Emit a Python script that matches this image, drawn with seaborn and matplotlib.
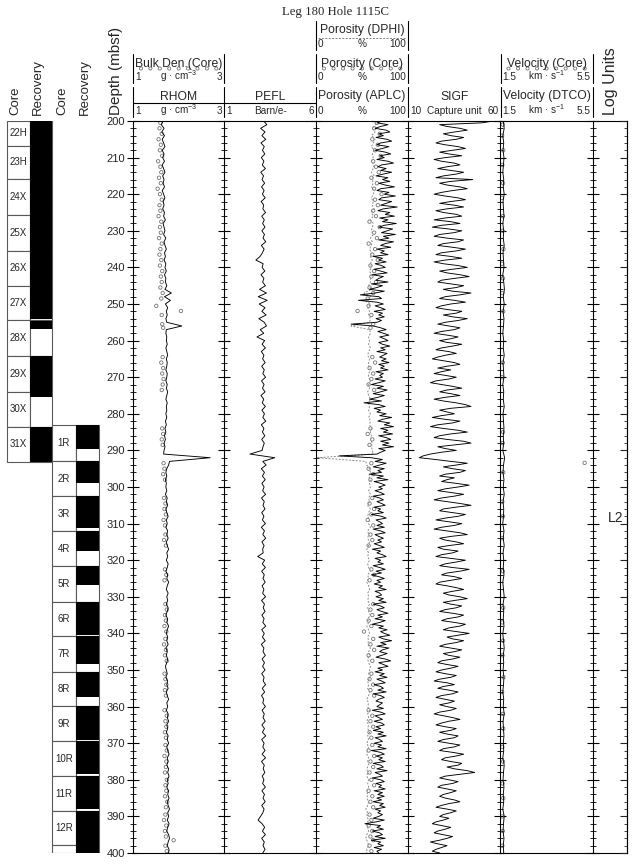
import numpy as np
import matplotlib
matplotlib.use("Agg")
import matplotlib.pyplot as plt
from matplotlib.patches import Rectangle
from matplotlib.ticker import MultipleLocator
import seaborn as sns

sns.set_style("white")
plt.rcParams["font.family"] = ["Liberation Sans", "DejaVu Sans"]
plt.rcParams["mathtext.fontset"] = "custom"
plt.rcParams["mathtext.rm"] = "Liberation Sans"
plt.rcParams["mathtext.it"] = "Liberation Sans:italic"
plt.rcParams["mathtext.bf"] = "Liberation Sans:bold"

# ---- log curves ----
# RHOM, PEFL, DPHI every 1 m from 200 to 400 mbsf
rhom = [
    1.66, 1.62, 1.68, 1.63, 1.69, 1.64, 1.67, 1.70, 1.64, 1.68,
    1.65, 1.69, 1.64, 1.67, 1.70, 1.65, 1.68, 1.66, 1.69, 1.64,
    1.67, 1.70, 1.66, 1.68, 1.65, 1.69, 1.67, 1.71, 1.66, 1.68,
    1.70, 1.67, 1.72, 1.68, 1.70, 1.73, 1.69, 1.71, 1.68, 1.72,
    1.70, 1.73, 1.69, 1.72, 1.71, 1.74, 1.70, 1.84, 1.69, 1.82,
    1.71, 1.76, 1.73, 1.75, 1.72, 1.74, 2.07, 1.73, 1.72, 1.74,
    1.73, 1.75, 1.72, 1.74, 1.76, 1.73, 1.75, 1.74, 1.72, 1.75,
    1.74, 1.72, 1.75, 1.73, 1.76, 1.74, 1.72, 1.75, 1.73, 1.74,
    1.72, 1.74, 1.71, 1.73, 1.70, 1.72, 1.69, 1.71, 1.68, 1.70,
    1.68, 1.67, 2.69, 1.80, 1.78, 1.74, 1.72, 1.74, 1.71, 1.73,
    1.72, 1.74, 1.71, 1.75, 1.73, 1.76, 1.72, 1.74, 1.77, 1.73,
    1.75, 1.72, 1.76, 1.74, 1.77, 1.73, 1.75, 1.78, 1.74, 1.76,
    1.73, 1.77, 1.75, 1.72, 1.76, 1.74, 1.78, 1.75, 1.73, 1.77,
    1.74, 1.76, 1.73, 1.77, 1.75, 1.72, 1.76, 1.74, 1.78, 1.75,
    1.73, 1.76, 1.74, 1.77, 1.72, 1.75, 1.73, 1.76, 1.74, 1.71,
    1.73, 1.75, 1.72, 1.76, 1.74, 1.77, 1.73, 1.75, 1.78, 1.74,
    1.76, 1.73, 1.77, 1.75, 1.78, 1.74, 1.76, 1.73, 1.77, 1.75,
    1.78, 1.74, 1.76, 1.79, 1.75, 1.77, 1.74, 1.78, 1.76, 1.79,
    1.75, 1.77, 1.74, 1.78, 1.76, 1.79, 1.75, 1.77, 1.80, 1.76,
    1.78, 1.75, 1.79, 1.76, 1.74, 1.78, 1.80, 1.77, 1.75, 1.79,
    1.78]

pefl = [
    3.15, 3.32, 2.98, 3.22, 3.05, 3.26, 3.00, 3.18, 3.08, 3.21,
    3.02, 3.16, 3.07, 3.24, 2.99, 3.14, 3.06, 3.20, 3.03, 3.17,
    3.08, 3.23, 3.01, 3.15, 3.10, 3.25, 3.04, 3.18, 3.09, 3.22,
    3.05, 3.19, 3.11, 3.26, 3.02, 3.17, 3.08, 2.95, 2.72, 3.12,
    3.06, 3.21, 3.00, 3.16, 3.09, 3.24, 2.92, 3.30, 2.85, 3.34,
    2.90, 3.22, 3.05, 3.28, 2.88, 3.18, 3.30, 2.96, 3.15, 2.78,
    3.20, 3.06, 3.24, 3.02, 3.16, 3.09, 3.23, 3.04, 3.18, 3.10,
    3.25, 3.03, 3.17, 3.08, 3.22, 3.00, 3.15, 3.07, 3.24, 3.05,
    3.19, 3.10, 3.26, 3.02, 3.16, 3.08, 3.21, 3.04, 3.18, 3.11,
    3.06, 2.40, 3.75, 3.10, 3.28, 3.02, 3.19, 3.08, 3.23, 3.05,
    3.17, 3.09, 3.25, 3.03, 3.18, 3.11, 3.22, 3.04, 3.16, 3.08,
    3.24, 3.02, 3.19, 3.10, 3.26, 3.05, 3.17, 3.09, 3.12, 2.82,
    3.20, 3.07, 3.24, 3.04, 3.18, 3.11, 3.23, 3.06, 3.16, 3.09,
    3.25, 3.03, 3.19, 3.12, 3.22, 3.05, 3.17, 3.10, 3.26, 3.04,
    3.18, 3.08, 3.23, 3.02, 3.16, 3.11, 3.24, 3.06, 3.19, 3.09,
    3.22, 3.04, 3.17, 3.12, 3.25, 3.07, 3.20, 3.03, 3.15, 3.10,
    3.24, 3.06, 3.18, 3.11, 3.23, 3.05, 3.19, 3.08, 3.26, 3.04,
    3.17, 3.10, 3.22, 3.06, 3.25, 3.03, 3.18, 3.12, 3.21, 3.07,
    3.16, 3.09, 3.24, 3.05, 3.19, 3.11, 3.23, 3.04, 3.17, 3.10,
    2.98, 2.84, 3.06, 3.20, 3.08, 3.24, 3.04, 3.18, 3.11, 3.22,
    3.10]

dphi = [
    62, 65, 61, 64, 60, 64, 62, 60, 63, 61,
    62, 60, 63, 62, 60, 63, 61, 62, 60, 63,
    62, 60, 62, 61, 63, 60, 62, 59, 62, 61,
    60, 62, 59, 61, 60, 58, 60, 59, 61, 59,
    60, 58, 60, 59, 59, 57, 60, 52, 60, 53,
    59, 56, 58, 57, 59, 58, 38, 58, 59, 57,
    58, 57, 59, 57, 56, 58, 57, 57, 59, 57,
    57, 59, 57, 58, 56, 57, 59, 57, 58, 57,
    59, 57, 59, 58, 60, 59, 60, 59, 61, 60,
    61, 62, 1, 54, 55, 58, 59, 57, 59, 58,
    59, 57, 59, 57, 58, 56, 59, 57, 56, 58,
    57, 59, 56, 57, 56, 58, 57, 55, 57, 56,
    58, 56, 57, 59, 56, 57, 55, 57, 58, 56,
    57, 56, 58, 56, 57, 59, 56, 57, 55, 57,
    58, 56, 57, 56, 59, 57, 58, 56, 57, 59,
    58, 57, 59, 56, 57, 56, 58, 57, 55, 57,
    56, 58, 56, 57, 55, 57, 56, 58, 56, 57,
    55, 57, 56, 55, 57, 56, 57, 55, 56, 55,
    57, 56, 57, 55, 56, 55, 57, 56, 54, 56,
    55, 57, 55, 56, 57, 55, 54, 56, 57, 55,
    55]

# APLC and SIGF every 0.5 m
aplc = [
    72, 66, 78, 70, 64, 76, 80, 68, 73, 65,
    77, 82, 70, 66, 79, 72, 64, 75, 81, 69,
    74, 66, 78, 84, 71, 67, 76, 70, 82, 73,
    65, 78, 72, 80, 68, 75, 85, 70, 66, 79,
    74, 86, 71, 68, 82, 76, 70, 88, 73, 67,
    80, 75, 85, 69, 78, 72, 87, 74, 68, 83,
    77, 71, 86, 73, 79, 68, 84, 75, 70, 81,
    66, 74, 70, 78, 62, 72, 68, 76, 64, 71,
    75, 63, 70, 77, 61, 73, 68, 65, 78, 60,
    72, 66, 58, 74, 64, 48, 68, 71, 46, 66,
    73, 64, 70, 75, 63, 72, 68, 74, 65, 71,
    66, 38, 62, 70, 76, 67, 73, 79, 69, 74,
    78, 68, 72, 80, 70, 75, 66, 77, 73, 69,
    76, 71, 79, 68, 74, 70, 78, 65, 73, 69,
    72, 64, 75, 68, 60, 73, 66, 77, 70, 62,
    74, 67, 58, 71, 52, 68, 75, 63, 70, 66,
    76, 69, 82, 72, 67, 80, 74, 84, 70, 78,
    73, 83, 68, 76, 81, 70, 79, 72, 84, 68,
    75, 70, 66, 25, 60, 72, 64, 76, 69, 62,
    74, 67, 71, 58, 73, 66, 78, 63, 70, 75,
    68, 72, 64, 70, 74, 62, 69, 73, 66, 71,
    75, 63, 70, 67, 73, 60, 71, 76, 65, 69,
    72, 66, 74, 62, 70, 75, 64, 68, 73, 67,
    71, 63, 69, 74, 61, 70, 66, 72, 76, 64,
    70, 67, 73, 62, 69, 75, 65, 71, 60, 68,
    74, 66, 70, 63, 72, 68, 76, 64, 69, 71,
    65, 73, 68, 76, 62, 70, 74, 66, 71, 78,
    67, 72, 64, 75, 69, 61, 73, 68, 77, 70,
    74, 80, 68, 73, 82, 70, 76, 66, 79, 72,
    69, 77, 71, 65, 75, 81, 68, 73, 78, 67,
    72, 64, 74, 69, 77, 66, 71, 75, 63, 70,
    73, 67, 76, 62, 70, 74, 68, 65, 72, 69,
    66, 73, 61, 70, 75, 64, 68, 72, 63, 71,
    74, 65, 70, 62, 73, 67, 76, 64, 69, 72,
    63, 71, 67, 76, 60, 70, 74, 65, 72, 68,
    75, 62, 70, 73, 66, 77, 64, 69, 72, 61,
    70, 74, 65, 71, 68, 75, 63, 72, 67, 74,
    66, 71, 62, 73, 69, 75, 64, 70, 67, 72,
    68, 62, 74, 65, 53, 70, 66, 73, 61, 69,
    72, 64, 75, 60, 70, 67, 73, 63, 71, 66,
    68]

sigf = [
    56, 50, 27, 31, 38, 42, 35, 29, 33, 40,
    36, 28, 25, 30, 37, 41, 34, 27, 32, 39,
    30, 24, 28, 35, 38, 31, 26, 33, 40, 36,
    29, 25, 45, 33, 27, 31, 38, 42, 34, 28,
    24, 30, 37, 41, 33, 27, 35, 40, 31, 25,
    29, 36, 39, 30, 24, 33, 38, 28, 23, 32,
    39, 35, 27, 24, 31, 40, 37, 29, 26, 34,
    41, 36, 28, 25, 33, 39, 30, 24, 29, 37,
    42, 34, 27, 31, 38, 43, 35, 28, 26, 33,
    40, 36, 29, 34, 44, 38, 30, 27, 35, 41,
    33, 28, 25, 31, 39, 36, 29, 34, 42, 37,
    30, 26, 32, 38, 35, 28, 24, 31, 37, 33,
    27, 31, 39, 34, 28, 25, 32, 36, 30, 26,
    23, 29, 35, 38, 31, 26, 33, 28, 24, 30,
    36, 32, 25, 22, 28, 34, 39, 31, 27, 33,
    38, 30, 24, 29, 36, 41, 44, 33, 27, 31,
    35, 28, 23, 30, 38, 34, 26, 22, 29, 37,
    42, 33, 27, 24, 31, 40, 44, 35, 26, 30,
    36, 28, 22, 18, 16, 25, 33, 42, 36, 29,
    34, 41, 38, 30, 27, 35, 31, 28, 36, 43,
    37, 30, 26, 33, 40, 35, 28, 24, 31, 38,
    44, 36, 29, 27, 34, 41, 37, 30, 25, 32,
    39, 35, 28, 24, 31, 38, 42, 33, 27, 30,
    36, 40, 32, 26, 29, 37, 34, 28, 25, 33,
    41, 36, 30, 27, 34, 43, 38, 31, 28, 35,
    39, 33, 27, 25, 31, 36, 40, 34, 29, 32,
    38, 42, 35, 29, 33, 39, 36, 30, 27, 34,
    40, 37, 31, 28, 35, 41, 38, 32, 29, 36,
    43, 37, 31, 34, 40, 36, 30, 27, 33, 39,
    35, 29, 32, 38, 34, 28, 26, 31, 37, 33,
    28, 25, 30, 36, 33, 27, 24, 31, 35, 29,
    26, 32, 37, 34, 28, 25, 30, 35, 32, 27,
    31, 36, 33, 27, 24, 29, 34, 38, 32, 28,
    25, 30, 36, 33, 27, 31, 37, 35, 29, 26,
    32, 38, 35, 29, 27, 34, 40, 36, 30, 28,
    33, 39, 37, 31, 35, 42, 46, 38, 30, 27,
    32, 37, 34, 28, 26, 31, 36, 33, 29, 27,
    30, 35, 38, 32, 28, 25, 31, 36, 33, 29,
    27, 32, 29, 25, 23, 28, 33, 30, 26, 24,
    29, 34, 31, 27, 22, 26, 31, 28, 25, 23,
    27]

# DTCO velocity every 2 m
dtco = [
    1.62, 1.66, 1.60, 1.64, 1.61, 1.65, 1.63, 1.60, 1.64, 1.62,
    1.66, 1.61, 1.63, 1.65, 1.60, 1.64, 1.62, 1.66, 1.61, 1.63,
    1.65, 1.60, 1.64, 1.67, 1.62, 1.66, 1.61, 1.65, 1.63, 1.60,
    1.64, 1.62, 1.66, 1.61, 1.63, 1.65, 1.60, 1.64, 1.62, 1.66,
    1.61, 1.63, 1.65, 1.62, 1.64, 1.60, 1.68, 1.63, 1.61, 1.65,
    1.62, 1.66, 1.61, 1.64, 1.63, 1.60, 1.65, 1.62, 1.66, 1.61,
    1.64, 1.62, 1.65, 1.60, 1.63, 1.66, 1.61, 1.64, 1.62, 1.65,
    1.60, 1.63, 1.66, 1.62, 1.64, 1.61, 1.65, 1.63, 1.60, 1.64,
    1.62, 1.66, 1.61, 1.63, 1.65, 1.62, 1.64, 1.60, 1.66, 1.63,
    1.61, 1.65, 1.62, 1.64, 1.60, 1.66, 1.63, 1.61, 1.65, 1.62,
    1.64]

depth_1m = np.arange(200, 401, 1.0)
depth_05 = np.arange(200, 400.5, 0.5)
depth_2m = np.arange(200, 401, 2.0)

# ---- core measurements ----
core_depth = [
    200.5, 202.0, 203.5, 205.0, 206.5, 208.0, 209.5, 211.0, 212.5, 214.0,
    215.5, 217.0, 218.5, 220.0, 221.5, 223.0, 224.5, 226.0, 227.5, 229.0,
    230.5, 232.0, 233.5, 235.0, 236.5, 238.0, 239.5, 241.0, 242.5, 244.0,
    245.5, 247.0, 248.5, 250.5, 251.9, 253.0, 255.5, 256.5, 264.5, 266.0,
    267.5, 269.0, 270.5, 272.0, 273.5, 284.0, 285.5, 287.0, 288.5, 293.5,
    295.0, 296.5, 298.0, 303.0, 304.5, 306.0, 307.5, 309.0, 310.5, 313.0,
    314.5, 316.0, 322.5, 324.0, 325.5, 332.0, 333.5, 335.0, 336.5, 338.0,
    339.5, 341.5, 343.0, 344.5, 346.0, 347.5, 351.0, 352.5, 354.0, 355.5,
    357.0, 361.0, 362.5, 364.0, 365.5, 367.0, 368.5, 370.5, 372.0, 373.5,
    375.0, 376.5, 378.0, 380.0, 381.5, 383.0, 384.5, 386.0, 387.5, 389.5,
    391.0, 392.5, 394.0, 395.5, 396.5, 398.0, 399.5]
core_den = [
    1.60, 1.58, 1.63, 1.56, 1.61, 1.59, 1.64, 1.55, 1.60, 1.62,
    1.57, 1.61, 1.54, 1.59, 1.63, 1.58, 1.60, 1.56, 1.62, 1.59,
    1.61, 1.57, 1.63, 1.60, 1.58, 1.62, 1.59, 1.64, 1.61, 1.63,
    1.60, 1.65, 1.62, 1.51, 2.05, 1.63, 1.64, 1.66, 1.65, 1.62,
    1.66, 1.64, 1.67, 1.65, 1.63, 1.64, 1.66, 1.63, 1.65, 1.67,
    1.69, 1.66, 1.70, 1.68, 1.71, 1.69, 1.72, 1.67, 1.70, 1.71,
    1.68, 1.72, 1.70, 1.73, 1.69, 1.71, 1.74, 1.70, 1.72, 1.69,
    1.73, 1.71, 1.68, 1.72, 1.70, 1.74, 1.69, 1.71, 1.73, 1.70,
    1.72, 1.69, 1.74, 1.71, 1.73, 1.70, 1.72, 1.71, 1.74, 1.69,
    1.73, 1.72, 1.70, 1.74, 1.71, 1.73, 1.70, 1.75, 1.72, 1.71,
    1.68, 1.73, 1.70, 1.72, 1.89, 1.71, 1.74]
core_por = [
    66, 63, 69, 61, 67, 64, 70, 62, 65, 68,
    60, 66, 63, 71, 64, 67, 62, 65, 58, 69,
    63, 66, 57, 64, 61, 67, 59, 63, 60, 65,
    58, 62, 56, 57, 45, 60, 62, 59, 61, 64,
    58, 62, 60, 57, 63, 59, 56, 61, 58, 60,
    57, 62, 59, 61, 58, 63, 60, 56, 62, 59,
    61, 57, 60, 63, 58, 62, 59, 61, 57, 60,
    52, 62, 59, 63, 57, 61, 60, 58, 62, 59,
    63, 57, 61, 59, 62, 58, 60, 61, 57, 63,
    59, 62, 58, 60, 63, 57, 61, 59, 62, 58,
    60, 57, 61, 59, 62, 58, 60]
vel_depth = [201, 204, 208, 212, 217, 221, 226, 230, 235, 239, 243, 247, 252,
             266, 270, 285, 288, 293.4, 296, 304, 308, 314, 323, 333, 337, 342,
             346, 352, 356, 362, 366, 371, 375, 381, 385, 390, 394, 398]
vel_core = [1.60, 1.57, 1.62, 1.58, 1.61, 1.56, 1.60, 1.59, 1.63, 1.57, 1.61, 1.58, 1.62,
            1.60, 1.57, 1.61, 1.59, 5.15, 1.62, 1.58, 1.61, 1.57, 1.60, 1.62, 1.58, 1.61,
            1.59, 1.63, 1.57, 1.60, 1.62, 1.58, 1.61, 1.59, 1.62, 1.57, 1.60, 1.58]

# ---- cores and recovery ----
cores1 = ["22H", "23H", "24X", "25X", "26X", "27X", "28X", "29X", "30X", "31X"]
cores1_top = [200.0, 206.7, 215.8, 225.8, 235.5, 245.0, 254.5, 264.3, 274.0, 283.6]
cores1_bot = [206.7, 215.8, 225.8, 235.5, 245.0, 254.5, 264.3, 274.0, 283.6, 293.1]
rec1_top = [200.0, 206.7, 215.8, 225.8, 235.5, 245.0, 254.6, 264.3, 283.6]
rec1_bot = [206.7, 215.8, 225.8, 235.5, 245.0, 254.2, 256.7, 275.5, 293.1]

cores2 = ["1R", "2R", "3R", "4R", "5R", "6R", "7R", "8R", "9R", "10R", "11R", "12R", ""]
cores2_top = [283.1, 293.0, 302.4, 312.1, 321.6, 331.3, 340.8, 350.5, 359.9, 369.5, 379.0, 388.5, 397.8]
cores2_bot = [293.0, 302.4, 312.1, 321.6, 331.3, 340.8, 350.5, 359.9, 369.5, 379.0, 388.5, 397.8, 400.0]
rec2_top = [283.1, 293.0, 302.4, 312.1, 321.6, 331.3, 340.8, 350.5, 359.9, 369.5, 379.0, 388.5]
rec2_bot = [289.5, 299.0, 311.2, 317.4, 326.9, 340.5, 348.3, 357.5, 369.1, 378.5, 388.0, 400.0]

# ---- layout (pixels) ----
W, H = 635, 864
TOP, BOT = 121, 853
edges = [133, 224.3, 316, 408.3, 500.5, 592.7, 627]
centros = [(edges[i] + edges[i + 1]) / 2 for i in range(6)]

fig = plt.figure(figsize=(6.35, 8.64), dpi=100)


def caja(x0, x1):
    return [x0 / W, 1 - BOT / H, (x1 - x0) / W, (BOT - TOP) / H]


axes = []
for i in range(6):
    ax = fig.add_axes(caja(edges[i], edges[i + 1]))
    axes.append(ax)

# curves
sns.lineplot(x=rhom, y=depth_1m, orient="y", sort=False, estimator=None,
             color="black", lw=0.65, ax=axes[0])
sns.scatterplot(x=core_den, y=core_depth, marker="o", s=6, facecolor="none",
                edgecolor="0.45", linewidth=0.6, ax=axes[0], legend=False)

sns.lineplot(x=pefl, y=depth_1m, orient="y", sort=False, estimator=None,
             color="black", lw=0.65, ax=axes[1])

sns.lineplot(x=dphi, y=depth_1m, orient="y", sort=False, estimator=None,
             color="0.55", lw=0.7, linestyle=(0, (2, 1.5)), ax=axes[2])
sns.lineplot(x=aplc, y=depth_05, orient="y", sort=False, estimator=None,
             color="black", lw=0.65, ax=axes[2])
sns.scatterplot(x=core_por, y=core_depth, marker="o", s=6, facecolor="none",
                edgecolor="0.45", linewidth=0.6, ax=axes[2], legend=False)

sns.lineplot(x=sigf, y=depth_05, orient="y", sort=False, estimator=None,
             color="black", lw=0.65, ax=axes[3])

sns.lineplot(x=dtco, y=depth_2m, orient="y", sort=False, estimator=None,
             color="black", lw=0.65, ax=axes[4])
sns.scatterplot(x=vel_core, y=vel_depth, marker="o", s=6, facecolor="none",
                edgecolor="0.45", linewidth=0.6, ax=axes[4], legend=False)

rangos = [(1, 3), (1, 6), (0, 100), (10, 60), (1.5, 5.5), (0, 1)]
for i, ax in enumerate(axes):
    ax.set_xlim(*rangos[i])
    ax.set_ylim(400, 200)
    ax.set_xlabel("")
    ax.set_ylabel("")
    ax.set_xticks([])
    ax.yaxis.set_major_locator(MultipleLocator(10))
    ax.yaxis.set_minor_locator(MultipleLocator(2))
    ax.tick_params(axis="y", which="major", direction="inout", length=9, width=0.8,
                   color="black", left=True, right=False, labelleft=(i == 0),
                   labelsize=8, pad=1)
    ax.tick_params(axis="y", which="minor", direction="inout", length=5, width=0.6,
                   color="black", left=True, right=False)
    for s in ["top", "bottom", "left", "right"]:
        ax.spines[s].set_color("black")
        ax.spines[s].set_linewidth(0.8)
    ax.spines["right"].set_visible(i == 5)

# ticks pointing inward on the right edge
tw = axes[5].twinx()
tw.set_ylim(400, 200)
tw.yaxis.set_major_locator(MultipleLocator(10))
tw.yaxis.set_minor_locator(MultipleLocator(2))
tw.tick_params(axis="y", which="major", direction="in", length=5, width=0.8,
               right=True, labelright=False)
tw.tick_params(axis="y", which="minor", direction="in", length=2.5, width=0.6,
               right=True, labelright=False)
for s in ["top", "bottom", "left"]:
    tw.spines[s].set_visible(False)
tw.spines["right"].set_color("black")
tw.spines["right"].set_linewidth(0.8)

axes[5].text(0.68, 308.5, "L2", ha="center", va="center", fontsize=10)

# core columns
cax = fig.add_axes(caja(0, 133))
cax.set_xlim(0, 133)
cax.set_ylim(400, 200)
cax.axis("off")
cols = [(7, 30, 52.3, cores1, cores1_top, cores1_bot, rec1_top, rec1_bot),
        (52.3, 75.7, 98.7, cores2, cores2_top, cores2_bot, rec2_top, rec2_bot)]
for x0, x1, x2, nombres, tops, bots, rt, rb in cols:
    for nombre, t, b in zip(nombres, tops, bots):
        cax.add_patch(Rectangle((x0, t), x1 - x0, b - t, fc="white", ec="0.35", lw=0.8))
        cax.add_patch(Rectangle((x1, t), x2 - x1, b - t, fc="white", ec="0.35", lw=0.8))
        cax.text((x0 + x1) / 2, (t + b) / 2, nombre, ha="center", va="center", fontsize=7)
    for t, b in zip(rt, rb):
        cax.add_patch(Rectangle((x1, t), x2 - x1, b - t, fc="black", ec="none"))

# header overlay
ov = fig.add_axes([0, 0, 1, 1], zorder=10)
ov.set_xlim(0, W)
ov.set_ylim(H, 0)
ov.axis("off")
ov.patch.set_visible(False)

ov.text(336, 12, "Leg 180 Hole 1115C", ha="center", va="center",
        family="Liberation Serif", fontsize=9.2)


def barras(xs, y0, y1):
    for x in xs:
        ov.plot([x, x], [y0, y1], color="black", lw=0.8)


def unidades(i, izq, centro, der, y):
    ov.text(edges[i] + 2, y, izq, ha="left", va="baseline", fontsize=7.2)
    ov.text(centros[i], y, centro, ha="center", va="baseline", fontsize=7.2)
    ov.text(edges[i + 1] - 2, y, der, ha="right", va="baseline", fontsize=7.2)


def circulos(i, y):
    xs = np.linspace(edges[i] + 8, edges[i + 1] - 8, 9)
    ov.scatter(xs, [y] * len(xs), s=5, facecolor="none", edgecolor="0.45", linewidth=0.6)


# row A: DPHI
barras([edges[2], edges[3]], 21, 50)
ov.text(centros[2], 33.5, "Porosity (DPHI)", ha="center", va="baseline", fontsize=8.7)
ov.plot([edges[2] + 2, edges[3] - 2], [38, 38], color="0.5", lw=0.7, ls=(0, (2, 1.5)))
unidades(2, "0", "%", "100", 47)

# row B: core data
for i in [0, 2, 4]:
    barras([edges[i], edges[i + 1]], 54, 83)
    circulos(i, 68.5)
ov.text(centros[0], 66.5, "Bulk Den.(Core)", ha="center", va="baseline", fontsize=8.7)
ov.text(centros[2], 66.5, "Porosity (Core)", ha="center", va="baseline", fontsize=8.7)
ov.text(centros[4], 66.5, "Velocity (Core)", ha="center", va="baseline", fontsize=8.7)
unidades(0, "1", r"g · cm$^{-3}$", "3", 80)
unidades(2, "0", "%", "100", 80)
unidades(4, "1.5", r"km · s$^{-1}$", "5.5", 80)

# row C: logs
barras(edges[:6], 87, 117)
ov.plot([edges[0], edges[2]], [103, 103], color="black", lw=0.8)
titulos = ["RHOM", "PEFL", "Porosity (APLC)", "SIGF", "Velocity (DTCO)"]
for i, t in enumerate(titulos):
    ov.text(centros[i], 99.5, t, ha="center", va="baseline", fontsize=8.7)
unidades(0, "1", r"g · cm$^{-3}$", "3", 114)
unidades(1, "1", "Barn/e-", "6", 114)
unidades(2, "0", "%", "100", 114)
unidades(3, "10", "Capture unit", "60", 114)
unidades(4, "1.5", r"km · s$^{-1}$", "5.5", 114)

# rotated column titles
for x, t, fs in [(15, "Core", 9.5), (38, "Recovery", 9.5), (62, "Core", 9.5),
                 (85, "Recovery", 9.5), (116, "Depth (mbsf)", 11),
                 (610, "Log Units", 11.5)]:
    ov.text(x, 115, t, rotation=90, ha="center", va="bottom", fontsize=fs)

fig.savefig("out.png", dpi=100)
